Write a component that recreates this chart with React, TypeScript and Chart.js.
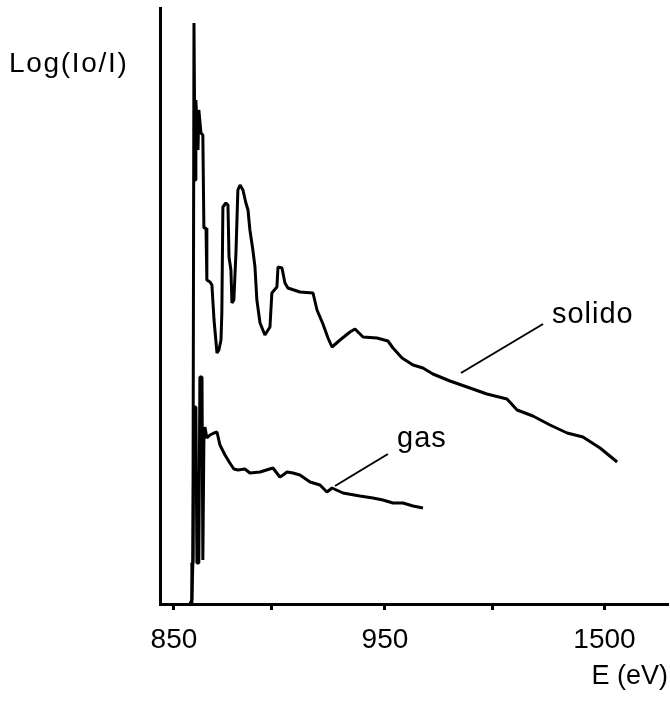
import React, { useEffect, useRef } from "react";
import { Chart, registerables } from "chart.js";

Chart.register(...registerables);

// Energy axis (nominal positions along the broken axis) and labels
const E_TICKS = [850, 896, 950, 1001, 1054];
const E_TICK_LABELS = ["850", "", "950", "", "1500"];

// "solido" spectrum
const solidoE = [
  857.6, 858.5, 859.0, 859.5, 860.0, 860.4, 861.4, 861.8, 862.8, 863.7,
  864.2, 865.2, 865.6, 867.1, 868.0, 869.0, 870.4, 871.3, 872.3, 872.7,
  873.2, 874.6, 875.6, 876.1, 877.0, 877.5, 878.4, 879.4, 880.3, 881.3,
  882.7, 884.1, 885.1, 886.0, 887.4, 888.4, 889.3, 890.8, 893.1, 895.5,
  896.4, 898.8, 899.3, 901.2, 902.6, 904.0, 909.7, 915.9, 917.8, 920.6,
  923.0, 924.9, 928.7, 933.4, 935.8, 939.6, 946.2, 951.4, 953.8, 958.1,
  963.3, 968.0, 972.7, 980.8, 988.9, 998.3, 1007.8, 1012.6, 1020.1, 1028.2,
  1036.3, 1043.8, 1051.9, 1060.0,
];
const solidoI = [
  0.0, 0.04, 0.44, 5.81, 4.24, 5.04, 4.54, 4.94, 4.71, 4.69,
  3.76, 3.76, 3.24, 3.22, 3.19, 2.84, 2.51, 2.54, 2.64, 2.91,
  3.97, 4.01, 3.99, 3.47, 3.34, 3.01, 3.04, 3.52, 4.14, 4.19,
  4.14, 4.01, 3.94, 3.74, 3.54, 3.37, 3.04, 2.81, 2.69, 2.77,
  3.11, 3.17, 3.37, 3.36, 3.21, 3.16, 3.12, 3.11, 2.94, 2.8,
  2.66, 2.57, 2.64, 2.72, 2.75, 2.67, 2.66, 2.63, 2.56, 2.46,
  2.39, 2.36, 2.3, 2.23, 2.17, 2.1, 2.05, 1.94, 1.88, 1.79,
  1.71, 1.67, 1.56, 1.42,
];

// "gas" spectrum
const gasE = [
  857.1, 858.1, 858.5, 859.0, 859.5, 860.4, 860.9, 861.8, 862.3, 863.3,
  863.7, 864.2, 864.7, 865.6, 867.1, 869.0, 870.4, 871.8, 874.2, 876.5,
  878.4, 880.3, 883.6, 886.0, 890.8, 896.9, 900.2, 901.7, 903.6, 906.4,
  909.7, 914.5, 919.2, 922.5, 924.9, 930.1, 938.1, 944.3, 949.0, 953.8,
  958.5, 963.3, 968.0,
];
const gasI = [
  0.0, 0.0, 0.41, 0.41, 1.97, 1.97, 0.41, 0.41, 2.27, 2.27,
  0.44, 1.64, 1.77, 1.66, 1.69, 1.71, 1.72, 1.59, 1.49, 1.41,
  1.35, 1.34, 1.35, 1.31, 1.32, 1.36, 1.27, 1.29, 1.32, 1.31,
  1.29, 1.22, 1.19, 1.12, 1.16, 1.11, 1.08, 1.06, 1.04, 1.01,
  1.01, 0.98, 0.96,
];

// Annotation anchors (data coordinates)
const solidoLabel = { text: "solido", x: 1029.1, y: 2.81 };
const solidoLeader = [ { x: 1024.9, y: 2.8 }, { x: 986.0, y: 2.31 } ];
const gasLabel = { text: "gas", x: 955.7, y: 1.57 };
const gasLeader = [ { x: 951.4, y: 1.5 }, { x: 926.3, y: 1.18 } ];

const FONT = "'Liberation Sans', Arial, Helvetica, sans-serif";

const annotationPlugin = {
  id: "annotations",
  afterDraw(chart: any) {
    const { ctx, scales } = chart;
    const xs = scales.x;
    const ys = scales.y;
    ctx.save();
    ctx.strokeStyle = "#000";
    ctx.lineWidth = 2;
    for (const seg of [solidoLeader, gasLeader]) {
      ctx.beginPath();
      ctx.moveTo(xs.getPixelForValue(seg[0].x), ys.getPixelForValue(seg[0].y));
      ctx.lineTo(xs.getPixelForValue(seg[1].x), ys.getPixelForValue(seg[1].y));
      ctx.stroke();
    }
    ctx.fillStyle = "#000";
    ctx.font = `29px ${FONT}`;
    ctx.textAlign = "left";
    ctx.textBaseline = "alphabetic";
    (ctx as any).letterSpacing = "1px";
    for (const lab of [solidoLabel, gasLabel]) {
      ctx.fillText(lab.text, xs.getPixelForValue(lab.x), ys.getPixelForValue(lab.y));
    }
    // axis titles
    ctx.font = `28px ${FONT}`;
    (ctx as any).letterSpacing = "1.7px";
    ctx.textAlign = "left";
    ctx.fillText("Log(Io/I)", 9, 72);
    (ctx as any).letterSpacing = "0px";
    ctx.font = `27px ${FONT}`;
    ctx.textAlign = "right";
    ctx.fillText("E (eV)", 668, 684);
    ctx.restore();
  },
};

export default function App() {
  const ref = useRef<HTMLCanvasElement | null>(null);

  useEffect(() => {
    document.body.style.margin = "0";
    const canvas = ref.current;
    if (!canvas) return;
    const chart = new Chart(canvas, {
      type: "line",
      data: {
        datasets: [
          {
            label: "solido",
            data: solidoE.map((e, i) => ({ x: e, y: solidoI[i] })),
            borderColor: "#000",
            borderWidth: 3,
            pointRadius: 0,
            tension: 0,
            borderJoinStyle: "bevel",
            fill: false,
          },
          {
            label: "gas",
            data: gasE.map((e, i) => ({ x: e, y: gasI[i] })),
            borderColor: "#000",
            borderWidth: 3,
            pointRadius: 0,
            tension: 0,
            borderJoinStyle: "bevel",
            fill: false,
          },
        ],
      },
      options: {
        animation: false,
        responsive: false,
        maintainAspectRatio: false,
        layout: { padding: { left: 160, right: 2, top: 8, bottom: 0 } },
        plugins: { legend: { display: false }, tooltip: { enabled: false } },
        scales: {
          x: {
            type: "linear",
            min: 843.4,
            max: 1084.1,
            afterBuildTicks: (scale: any) => {
              scale.ticks = E_TICKS.map((v) => ({ value: v }));
            },
            afterFit: (scale: any) => {
              scale.height = 106;
            },
            grid: {
              display: true,
              drawOnChartArea: false,
              drawTicks: true,
              tickLength: 6,
              tickWidth: 3,
              tickColor: "#000",
              color: "#000",
            },
            border: { display: true, color: "#000", width: 3 },
            ticks: {
              autoSkip: false,
              maxRotation: 0,
              padding: 13,
              color: "#000",
              font: { family: FONT, size: 28 },
              callback: (_v: any, i: number) => E_TICK_LABELS[i],
            },
          },
          y: {
            type: "linear",
            min: 0,
            max: 5.96,
            afterFit: (scale: any) => {
              scale.width = 0;
            },
            grid: { display: false },
            border: { display: true, color: "#000", width: 3 },
            ticks: { display: false },
          },
        },
      },
      plugins: [annotationPlugin],
    });
    return () => chart.destroy();
  }, []);

  return (
    <div style={{ width: 670, height: 710, background: "#fff" }}>
      <canvas ref={ref} width={670} height={710} style={{ display: "block" }} />
    </div>
  );
}
